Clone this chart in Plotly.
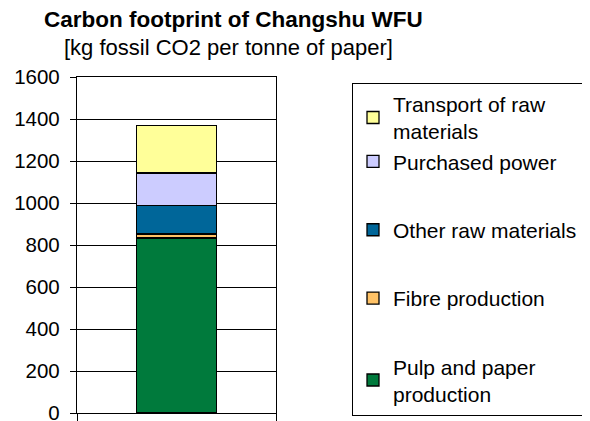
import plotly.graph_objects as go

category = ["Changshu WFU"]
series_names = ["Pulp and paper<br>production", "Fibre production", "Other raw materials",
                "Purchased power", "Transport of raw<br>materials"]
series_values = [[833], [19], [135], [156], [227]]
series_colors = ["#007A3C", "#FFC266", "#006699", "#CCCCFF", "#FFFF99"]
legend_groups = ["g4", "g3", "g2", "g1", "g1"]
legend_ranks = [5, 4, 3, 2, 1]
y_ticks = [0, 200, 400, 600, 800, 1000, 1200, 1400, 1600]

FONT = "Liberation Sans, Arial, sans-serif"

# The page body has an 8px default margin, so the figure is drawn 8px in from
# the window's top-left corner.
OFF = 8
W, H = 590 - OFF, 421
# plot area edges in window pixels (as measured on the reference)
WL, WR, WT, WB = 77, 276, 77.3, 413.3
PL, PR, PT, PB = WL - OFF, WR - OFF, WT - OFF, WB - OFF


def px_x(wx):
    return (wx - WL) / (WR - WL)


def px_y(wy):
    return (WB - wy) / (WB - WT)


fig = go.Figure()
for name, vals, col, grp, rk in zip(series_names, series_values, series_colors,
                                     legend_groups, legend_ranks):
    fig.add_trace(go.Bar(
        x=category, y=vals, name=name, legendgroup=grp, legendrank=rk,
        marker=dict(color=col, line=dict(color="black", width=1.3)),
        width=0.4,
    ))

fig.update_layout(
    width=W, height=H,
    margin=dict(l=PL, r=W - PR, t=PT, b=H - PB, pad=0, autoexpand=False),
    barmode="stack",
    plot_bgcolor="white", paper_bgcolor="white",
    font=dict(family=FONT, color="black", size=20),
    showlegend=True,
    legend=dict(
        x=px_x(352), y=px_y(83), xanchor="left", yanchor="top",
        bordercolor="black", borderwidth=1, bgcolor="white",
        traceorder="grouped", tracegroupgap=38, maxheight=H,
        font=dict(family=FONT, size=21, color="black"),
    ),
    xaxis=dict(
        range=[-0.5, 0.5], showticklabels=False, tickson="boundaries",
        ticks="outside", ticklen=8, tickcolor="black", tickwidth=1,
        showline=True, linecolor="black", linewidth=1.3, mirror=True,
        showgrid=False, fixedrange=True, automargin=False,
    ),
    yaxis=dict(
        range=[0, 1600], tickvals=y_ticks, ticktext=[str(v) for v in y_ticks],
        ticks="outside", ticklen=6, tickcolor="black", tickwidth=1,
        showgrid=True, gridcolor="black", gridwidth=1,
        showline=True, linecolor="black", linewidth=1.3, mirror=True,
        zeroline=False, ticklabelstandoff=6, automargin=False,
        ticklabeloverflow="allow",
        tickfont=dict(family=FONT, size=20.5, color="black"),
    ),
    annotations=[
        dict(text="<b>Carbon footprint of Changshu WFU</b>", xref="paper", yref="paper",
             x=px_x(42), y=px_y(20), xanchor="left", yanchor="middle", showarrow=False,
             font=dict(family=FONT, size=22.5, color="black")),
        dict(text="[kg fossil CO2 per tonne of paper]", xref="paper", yref="paper",
             x=px_x(62), y=px_y(47.5), xanchor="left", yanchor="middle", showarrow=False,
             font=dict(family=FONT, size=22, color="black")),
    ],
)

fig.write_html("out.html")
